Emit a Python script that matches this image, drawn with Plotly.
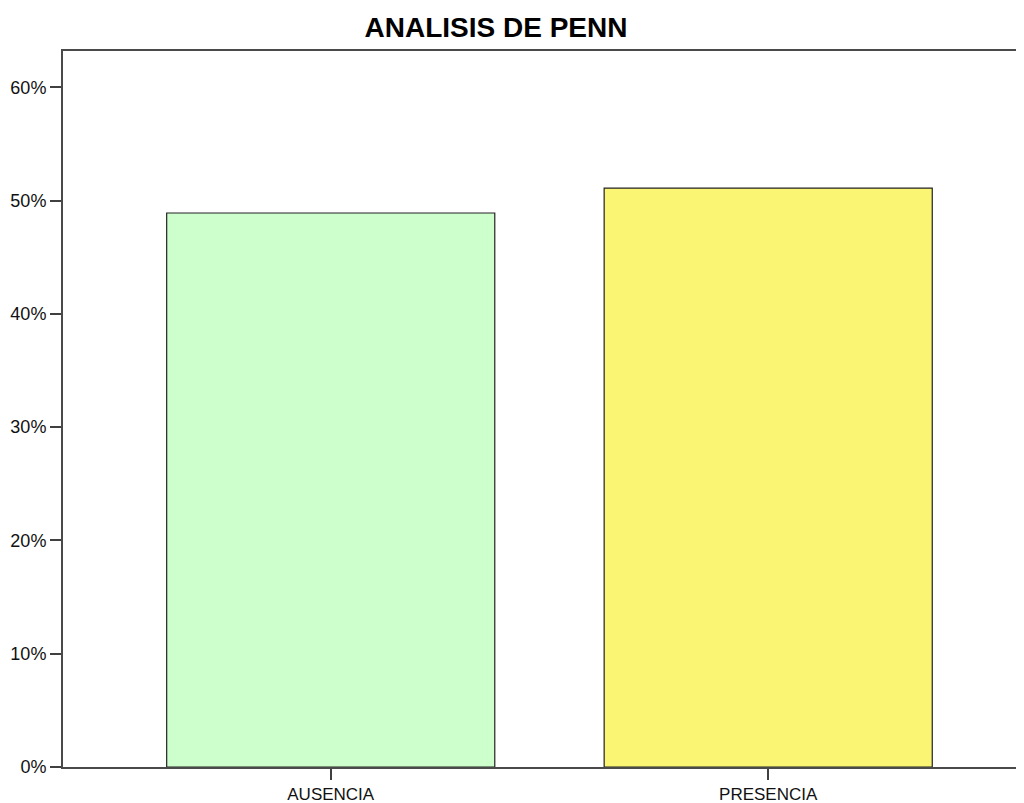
import plotly.graph_objects as go

categories = ["AUSENCIA", "PRESENCIA"]
percentages = [48.9, 51.1]
bar_colors = ["#CCFFCC", "#FAF674"]
y_ticks = [0, 10, 20, 30, 40, 50, 60]
y_tick_labels = ["0%", "10%", "20%", "30%", "40%", "50%", "60%"]

fig = go.Figure()
fig.add_trace(go.Bar(
    x=categories,
    y=percentages,
    width=0.75,
    marker=dict(color=bar_colors, line=dict(color="#222222", width=1.2)),
    hoverinfo="x+y",
))

FONT = "Liberation Sans, Arial, sans-serif"
W, H = 1024, 795

fig.update_layout(
    width=W,
    height=H,
    margin=dict(l=55, r=0, t=43, b=36),
    paper_bgcolor="white",
    plot_bgcolor="white",
    showlegend=False,
    title=dict(
        text="<b>ANALISIS DE PENN</b>",
        x=488 / W,
        xanchor="center",
        y=1 - 19 / H,
        yanchor="middle",
        font=dict(family=FONT, size=28, color="black"),
    ),
    font=dict(family=FONT, size=18, color="#111111"),
)

fig.update_xaxes(
    type="category",
    range=[-0.612, 1.603],
    showline=True,
    linecolor="#4a4a4a",
    linewidth=2,
    mirror=True,
    ticks="outside",
    ticklen=11,
    tickwidth=2,
    tickcolor="#404040",
    showgrid=False,
    zeroline=False,
    tickfont=dict(family=FONT, size=17, color="#111111"),
)

fig.update_yaxes(
    range=[0, 63.2],
    tickvals=y_ticks,
    ticktext=y_tick_labels,
    showline=True,
    linecolor="#4a4a4a",
    linewidth=2,
    ticks="outside",
    ticklen=11,
    tickwidth=2,
    tickcolor="#404040",
    showgrid=False,
    zeroline=False,
    tickfont=dict(family=FONT, size=18, color="#111111"),
)

fig.write_html("out.html")
